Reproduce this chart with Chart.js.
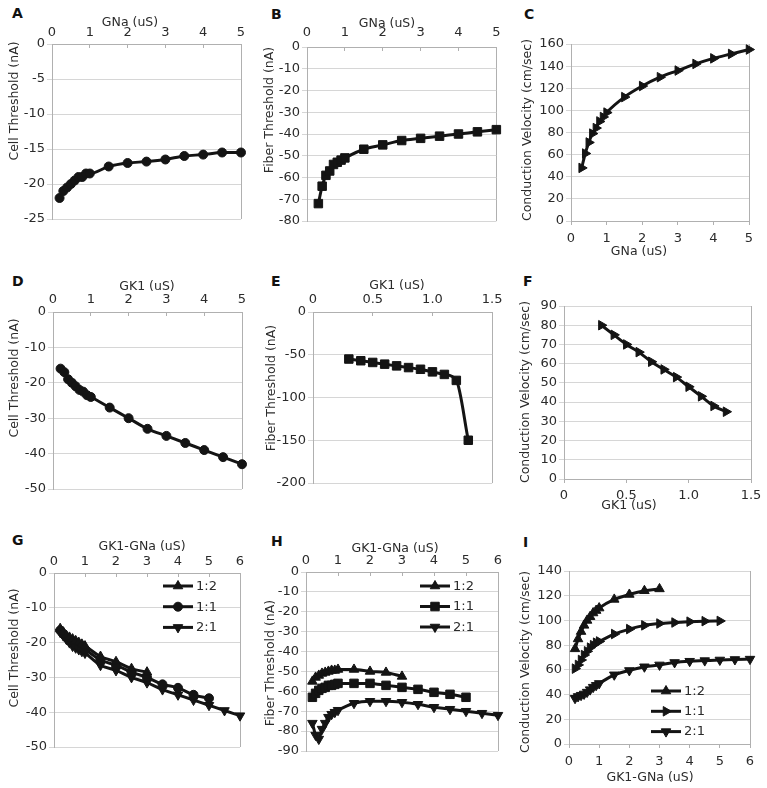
<!DOCTYPE html>
<html lang="en">
<head>
<meta charset="UTF-8">
<title>Thresholds and conduction velocity vs GNa / GK1</title>
<script src="https://cdn.jsdelivr.net/npm/chart.js"></script>
<style>
  body { margin: 0; background: #fff; }
  .wrap { position: relative; width: 767px; height: 788px; overflow: hidden; }
  .wrap canvas { position: absolute; }
  .tag { position: absolute; font: bold 14px "DejaVu Sans", sans-serif; line-height: 14px; color: #111; }
</style>
</head>
<body>
<div class="wrap">
  <div class="tag" style="left:12px;top:6px">A</div>
  <div class="tag" style="left:271px;top:7px">B</div>
  <div class="tag" style="left:524px;top:7px">C</div>
  <div class="tag" style="left:12px;top:274px">D</div>
  <div class="tag" style="left:271px;top:274px">E</div>
  <div class="tag" style="left:523px;top:274px">F</div>
  <div class="tag" style="left:12px;top:533px">G</div>
  <div class="tag" style="left:271px;top:534px">H</div>
  <div class="tag" style="left:523px;top:535px">I</div>
  <canvas id="A"></canvas><canvas id="B"></canvas><canvas id="C"></canvas>
  <canvas id="D"></canvas><canvas id="E"></canvas><canvas id="F"></canvas>
  <canvas id="G"></canvas><canvas id="H"></canvas><canvas id="I"></canvas>
</div>
<script>
// ---- data ----
// GNa sweep (A, B, C)
const gnaX        = [0.2, 0.3, 0.4, 0.5, 0.6, 0.7, 0.8, 0.9, 1, 1.5, 2, 2.5, 3, 3.5, 4, 4.5, 5];
const gnaXFiber   = [0.3, 0.4, 0.5, 0.6, 0.7, 0.8, 0.9, 1, 1.5, 2, 2.5, 3, 3.5, 4, 4.5, 5];
const cellThrGNa  = [-22, -21, -20.5, -20, -19.5, -19, -19, -18.5, -18.5, -17.5, -17, -16.8, -16.5, -16, -15.8, -15.5, -15.5];
const fiberThrGNa = [-72, -64, -59, -57, -54, -53, -52, -51, -47, -45, -43, -42, -41, -40, -39, -38];
const cvGNa       = [48, 61, 71, 79, 84, 90, 94, 98, 112, 122, 130, 136, 142, 147, 151, 155];

// GK1 sweep (D, E, F)
const gk1X        = [0.2, 0.3, 0.4, 0.5, 0.6, 0.7, 0.8, 0.9, 1, 1.5, 2, 2.5, 3, 3.5, 4, 4.5, 5];
const gk1XFiber   = [0.3, 0.4, 0.5, 0.6, 0.7, 0.8, 0.9, 1, 1.1, 1.2, 1.3];
const cellThrGK1  = [-16, -17, -19, -20, -21, -22, -22.5, -23.5, -24, -27, -30, -33, -35, -37, -39, -41, -43];
const fiberThrGK1 = [-55, -57, -59, -61, -63, -65, -67, -70, -73, -80, -150];
const cvGK1       = [80, 75, 70, 66, 61, 57, 53, 48, 43, 38, 35];

// combined GK1-GNa sweep (G, H, I), ratios GK1:GNa
const comboX       = [0.2, 0.3, 0.4, 0.5, 0.6, 0.7, 0.8, 0.9, 1, 1.5, 2, 2.5, 3, 3.5, 4, 4.5, 5, 5.5, 6];
const seriesLabels = ['1:2', '1:1', '2:1'];
const cellThr12  = [-16, -17, -18, -18.5, -19, -19.5, -20, -20.5, -21, -24, -25.5, -27.5, -28.5];
const cellThr11  = [-16.5, -17.5, -18.5, -19.5, -20, -20.5, -21, -21.5, -22, -25, -26.5, -28.5, -30, -32, -33, -35, -36];
const cellThr21  = [-17, -18, -19, -20, -21, -21.5, -22, -22.5, -23, -26.5, -28, -30, -31.5, -33.5, -35, -36.5, -38, -39.5, -41];
const fiberThr12 = [-55, -53, -52, -51, -50.5, -50, -49.5, -49.5, -49, -49, -50, -50.5, -52.5];
const fiberThr11 = [-63, -61, -59.5, -58.5, -58, -57, -57, -56.5, -56, -56, -56, -57, -58, -59, -60.5, -61.5, -63];
const fiberThr21 = [-76, -82, -84, -79, -76, -73, -71.5, -70.5, -69.5, -66, -65, -65, -65.5, -66.5, -68, -69, -70, -71, -72];
const cv12 = [77, 85, 91, 96, 100, 103, 106, 108, 110, 117, 121, 124, 125.5];
const cv11 = [61, 64, 68, 72, 75, 78, 80, 82, 83, 89, 93, 96, 97.5, 98.3, 99, 99.4, 99.6];
const cv21 = [37, 38.5, 39.5, 40.5, 42, 44, 46, 47.5, 49, 56, 59.5, 62.5, 64, 66, 67, 67.5, 68, 68.4, 68.7];

// ---- look ----
const ink = '#141414';
const txt = '#2b2b2b';
const gridC = '#d6d6d6';
const frameC = '#b0b0b0';
const fam = '"DejaVu Sans", "Liberation Sans", sans-serif';
const cols = [0, 256, 511, 767];
const rows = [0, 262, 524, 788];

const up = {style: 'triangle', rot: 0, r: 5.5};
const right = {style: 'triangle', rot: 90, r: 5.5};
const down = {style: 'triangle', rot: 180, r: 5.5};
const dot = {style: 'circle', rot: 0, r: 4.5};
const sq = {style: 'rect', rot: 0, r: 6};

const cellTitle = 'Cell Threshold (nA)';
const fiberTitle = 'Fiber Threshold (nA)';
const cvTitle = 'Conduction Velocity (cm/sec)';

const panels = [
  {id: 'A', col: 0, row: 0, plot: [52, 44, 241, 219], xPos: 'top', gap: 3.5,
   x: [0, 5, 1], y: [-25, 0, 5], xTitle: 'GNa (uS)', xAt: [130, 23], yTitle: cellTitle, yAt: [15, 101],
   series: [{x: gnaX, y: cellThrGNa, m: dot}]},
  {id: 'B', col: 1, row: 0, plot: [307, 47, 501, 221], xPos: 'top', gap: 6.5,
   x: [0, 5, 1], y: [-80, 0, 10], xTitle: 'GNa (uS)', xAt: [387, 24], yTitle: fiberTitle, yAt: [270, 110],
   series: [{x: gnaXFiber, y: fiberThrGNa, m: sq}]},
  {id: 'C', col: 2, row: 0, plot: [571, 44, 749, 221], xPos: 'bottom', gap: 10,
   x: [0, 5, 1], y: [0, 160, 20], xTitle: 'GNa (uS)', xAt: [639, 252], yTitle: cvTitle, yAt: [528, 130],
   series: [{x: gnaXFiber, y: cvGNa, m: right}]},
  {id: 'D', col: 0, row: 1, plot: [53, 312, 242, 489], xPos: 'top', gap: 4.5,
   x: [0, 5, 1], y: [-50, 0, 10], xTitle: 'GK1 (uS)', xAt: [147, 287], yTitle: cellTitle, yAt: [15, 378],
   series: [{x: gk1X, y: cellThrGK1, m: dot}]},
  {id: 'E', col: 1, row: 1, plot: [313, 312, 498, 483], xPos: 'top', gap: 4.5,
   x: [0, 1.5, 0.5], y: [-200, 0, 50], xTitle: 'GK1 (uS)', xAt: [397, 286], yTitle: fiberTitle, yAt: [272, 388],
   series: [{x: gk1XFiber, y: fiberThrGK1, m: sq}]},
  {id: 'F', col: 2, row: 1, plot: [564, 306, 751, 479], xPos: 'bottom', gap: 9,
   x: [0, 1.5, 0.5], y: [0, 90, 10], xTitle: 'GK1 (uS)', xAt: [629, 506], yTitle: cvTitle, yAt: [526, 392],
   series: [{x: gk1XFiber, y: cvGK1, m: right}]},
  {id: 'G', col: 0, row: 2, plot: [54, 573, 240, 747], xPos: 'top', gap: 3.5,
   x: [0, 6, 1], y: [-50, 0, 10], xTitle: 'GK1-GNa (uS)', xAt: [142, 547], yTitle: cellTitle, yAt: [15, 648],
   series: [{x: comboX, y: cellThr12, m: up}, {x: comboX, y: cellThr11, m: dot}, {x: comboX, y: cellThr21, m: down}],
   legend: {x0: 163, len: 30, y0: 586, step: 20.7}},
  {id: 'H', col: 1, row: 2, plot: [306, 572, 498, 751], xPos: 'top', gap: 4,
   x: [0, 6, 1], y: [-90, 0, 10], xTitle: 'GK1-GNa (uS)', xAt: [395, 549], yTitle: fiberTitle, yAt: [271, 663],
   series: [{x: comboX, y: fiberThr12, m: up}, {x: comboX, y: fiberThr11, m: sq}, {x: comboX, y: fiberThr21, m: down}],
   legend: {x0: 420, len: 30, y0: 586, step: 20.5}},
  {id: 'I', col: 2, row: 2, plot: [569, 571, 750, 744], xPos: 'bottom', gap: 10,
   x: [0, 6, 1], y: [0, 140, 20], xTitle: 'GK1-GNa (uS)', xAt: [650, 778], yTitle: cvTitle, yAt: [526, 662],
   series: [{x: comboX, y: cv12, m: up}, {x: comboX, y: cv11, m: right}, {x: comboX, y: cv21, m: down}],
   legend: {x0: 651, len: 30, y0: 691, step: 20.3}}
];

function drawMarker(ctx, m, x, y) {
  ctx.beginPath();
  if (m.style === 'circle') {
    ctx.arc(x, y, m.r, 0, Math.PI * 2);
  } else if (m.style === 'rect') {
    const s = m.r * Math.SQRT1_2;
    ctx.rect(x - s, y - s, 2 * s, 2 * s);
  } else {
    let a = m.rot * Math.PI / 180;
    for (let k = 0; k < 3; k++) {
      const px = x + Math.sin(a) * m.r, py = y - Math.cos(a) * m.r;
      if (k) ctx.lineTo(px, py); else ctx.moveTo(px, py);
      a += Math.PI * 2 / 3;
    }
    ctx.closePath();
  }
  ctx.fill();
  ctx.stroke();
}

// axis titles and the line+marker legends, drawn at spots
const decor = {
  id: 'decor',
  afterDraw(chart) {
    const p = panels.find(q => q.id === chart.canvas.id);
    const ox = cols[p.col], oy = rows[p.row];
    const ctx = chart.ctx;
    ctx.save();
    ctx.fillStyle = txt;
    ctx.font = '12.5px ' + fam;
    ctx.textAlign = 'center';
    ctx.textBaseline = 'middle';
    ctx.fillText(p.xTitle, p.xAt[0] - ox, p.xAt[1] - oy);
    ctx.save();
    ctx.translate(p.yAt[0] - ox, p.yAt[1] - oy);
    ctx.rotate(-Math.PI / 2);
    ctx.fillText(p.yTitle, 0, 0);
    ctx.restore();

    if (p.legend) {
      const L = p.legend;
      ctx.font = '13px ' + fam;
      ctx.textAlign = 'left';
      p.series.forEach((s, i) => {
        const x = L.x0 - ox, y = L.y0 + i * L.step - oy;
        ctx.strokeStyle = ink;
        ctx.lineWidth = 3;
        ctx.beginPath();
        ctx.moveTo(x, y);
        ctx.lineTo(x + L.len, y);
        ctx.stroke();
        ctx.fillStyle = ink;
        ctx.lineWidth = 1;
        drawMarker(ctx, s.m, x + L.len / 2, y);
        ctx.fillStyle = txt;
        ctx.fillText(seriesLabels[i], x + L.len + 3, y + 0.5);
      });
    }
    ctx.restore();
  }
};

panels.forEach(p => {
  const cl = cols[p.col], cr = cols[p.col + 1], ct = rows[p.row], cb = rows[p.row + 1];
  const [pl, pt, pr, pb] = p.plot;
  const top = p.xPos === 'top';
  const cv = document.getElementById(p.id);
  cv.width = cr - cl;
  cv.height = cb - ct;
  cv.style.left = cl + 'px';
  cv.style.top = ct + 'px';

  const tickFont = {family: fam, size: 13};
  const xMax = p.x[1];

  new Chart(cv, {
    type: 'line',
    data: {
      datasets: p.series.map((s, i) => ({
        label: p.legend ? seriesLabels[i] : p.yTitle,
        data: s.y.map((v, k) => ({x: s.x[k], y: v})),
        borderColor: ink,
        backgroundColor: ink,
        borderWidth: 3,
        pointStyle: s.m.style,
        pointRotation: s.m.rot,
        pointRadius: s.m.r,
        pointBorderWidth: 1,
        pointBackgroundColor: ink,
        pointBorderColor: ink,
        cubicInterpolationMode: 'monotone',
        clip: false
      }))
    },
    options: {
      responsive: false,
      animation: false,
      events: [],
      layout: {padding: {left: 0, top: top ? 0 : pt - ct, right: cr - pr, bottom: top ? cb - pb : 0}},
      plugins: {legend: {display: false}, tooltip: {enabled: false}},
      scales: {
        x: {
          type: 'linear',
          position: p.xPos,
          min: p.x[0], max: xMax,
          ticks: {stepSize: p.x[2], color: txt, font: tickFont, maxRotation: 0, autoSkip: false,
                  padding: top ? p.gap + 4 : p.gap - 4},
          grid: {
            color: c => (c.tick && c.tick.value === xMax) ? frameC : 'rgba(0,0,0,0)',
            tickColor: frameC,
            tickLength: top ? -4 : 4
          },
          border: {color: frameC},
          afterFit: sc => { sc.height = top ? pt - ct : cb - pb; }
        },
        y: {
          min: p.y[0], max: p.y[1],
          ticks: {stepSize: p.y[2], color: txt, font: tickFont, padding: 2},
          grid: {color: gridC, tickColor: gridC, tickLength: 5},
          border: {color: frameC},
          afterFit: sc => { sc.width = pl - cl; }
        }
      }
    },
    plugins: [decor]
  });
});
</script>
</body>
</html>
